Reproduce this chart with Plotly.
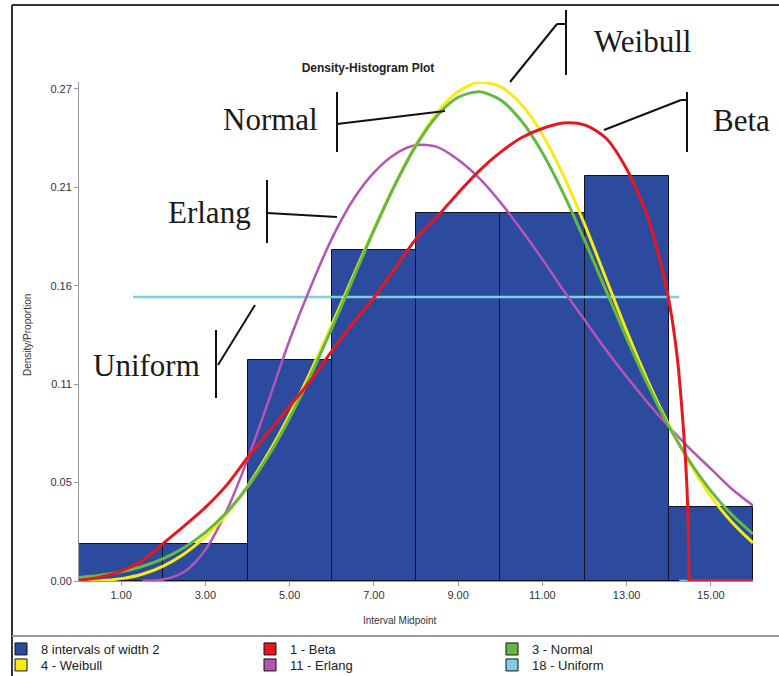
import plotly.graph_objects as go

# ---------------- data ----------------
bin_mids = [1, 3, 5, 7, 9, 11, 13, 15]
bin_props = [0.02, 0.02, 0.12, 0.18, 0.20, 0.20, 0.22, 0.04]
bin_width = 2

curve_x = [0, 0.5, 1, 1.5, 2, 2.5, 3, 3.5, 4, 4.5, 5, 5.5, 6, 6.5, 7, 7.5,
           8, 8.5, 9, 9.5, 10, 10.5, 11, 11.5, 12, 12.5, 13, 13.5, 14, 14.5,
           15, 15.5, 16]

normal_y = [0.0019, 0.0031, 0.0050, 0.0079, 0.0122, 0.0182, 0.0264, 0.0372,
            0.0511, 0.0682, 0.0886, 0.1118, 0.1373, 0.1640, 0.1906, 0.2153,
            0.2367, 0.2530, 0.2630, 0.2660, 0.2616, 0.2502, 0.2328, 0.2106,
            0.1853, 0.1586, 0.1321, 0.1069, 0.0842, 0.0650, 0.0490, 0.0360,
            0.0256]

weibull_y = [0.0, 0.0002, 0.0013, 0.0037, 0.0081, 0.0148, 0.0241, 0.0363,
             0.0515, 0.0697, 0.0906, 0.1140, 0.1392, 0.1653, 0.1913, 0.2157,
             0.2373, 0.2545, 0.2661, 0.2711, 0.2688, 0.2592, 0.2428, 0.2205,
             0.1940, 0.1650, 0.1360, 0.1090, 0.0850, 0.0640, 0.0460, 0.0320,
             0.0207]

erlang_x = [1.5, 2, 2.5, 3, 3.5, 4, 4.5, 5, 5.5, 6, 6.5, 7, 7.5, 8, 8.5, 9,
            9.5, 10, 10.5, 11, 11.5, 12, 12.5, 13, 13.5, 14, 14.5, 15, 15.5, 16]
erlang_y = [0.0, 0.0008, 0.005, 0.017, 0.038, 0.066, 0.098, 0.131, 0.160,
            0.186, 0.207, 0.222, 0.232, 0.237, 0.236, 0.229, 0.219, 0.206,
            0.191, 0.175, 0.158, 0.142, 0.126, 0.111, 0.097, 0.084, 0.072,
            0.061, 0.050, 0.041]

beta_x = [0, 0.5, 1, 1.5, 2, 2.5, 3, 3.5, 4, 4.5, 5, 5.5, 6, 6.5, 7, 7.5, 8,
          8.5, 9, 9.5, 10, 10.5, 11, 11.5, 12, 12.5, 13, 13.5, 13.75, 14,
          14.2, 14.3, 14.4, 14.45, 14.48, None, 14.48, 16]
beta_y = [0.0003, 0.002, 0.0055, 0.011, 0.0205, 0.030, 0.040, 0.052, 0.067,
          0.081, 0.095, 0.109, 0.125, 0.140, 0.154, 0.170, 0.186, 0.198,
          0.211, 0.223, 0.233, 0.241, 0.246, 0.249, 0.248, 0.241, 0.224,
          0.198, 0.178, 0.153, 0.122, 0.097, 0.065, 0.040, 0.0, None, 0.0, 0.0]

uniform_x = [1.28, 14.25, None, 14.25, 16]
uniform_y = [0.1544, 0.1544, None, 0.0, 0.0]

ytick_vals = [0.0, 0.0535, 0.107, 0.1605, 0.214, 0.2675]
ytick_text = ["0.00", "0.05", "0.11", "0.16", "0.21", "0.27"]
xtick_vals = [1, 3, 5, 7, 9, 11, 13, 15]
xtick_text = ["1.00", "3.00", "5.00", "7.00", "9.00", "11.00", "13.00", "15.00"]

names = {
    "hist": "8 intervals of width 2",
    "beta": "1 - Beta",
    "normal": "3 - Normal",
    "weibull": "4 - Weibull",
    "erlang": "11 - Erlang",
    "uniform": "18 - Uniform",
}
colors = {
    "hist": "#2D4B9E",
    "beta": "#E8161E",
    "normal": "#63B944",
    "weibull": "#F7EC12",
    "erlang": "#B455B4",
    "uniform": "#7ED0E0",
}
# one legend box per entry: three columns, two rows
legend_of = {
    "hist": "legend", "beta": "legend2", "normal": "legend3",
    "weibull": "legend4", "erlang": "legend5", "uniform": "legend6",
}

# ---------------- figure ----------------
fig = go.Figure()

fig.add_trace(go.Bar(
    x=bin_mids, y=bin_props, width=[bin_width] * len(bin_mids),
    marker=dict(color=colors["hist"], line=dict(color="#111122", width=1)),
    name=names["hist"], legend=legend_of["hist"], showlegend=True,
))

line_specs = [
    ("uniform", uniform_x, uniform_y, 2.5),
    ("erlang", erlang_x, erlang_y, 2.5),
    ("weibull", curve_x, weibull_y, 3),
    ("normal", curve_x, normal_y, 3),
    ("beta", beta_x, beta_y, 3),
]
for key, xs, ys, w in line_specs:
    fig.add_trace(go.Scatter(
        x=xs, y=ys, mode="lines",
        line=dict(color=colors[key], width=w, shape="spline", smoothing=0.8),
        connectgaps=False, showlegend=False, hoverinfo="skip",
    ))

for key in ["beta", "normal", "weibull", "erlang", "uniform"]:
    fig.add_trace(go.Scatter(
        x=[None], y=[None], mode="markers",
        marker=dict(symbol="square", size=12, color=colors[key],
                    line=dict(color="#111111", width=1)),
        name=names[key], legend=legend_of[key], showlegend=True,
    ))

# ---------------- layout ----------------
L, R, T, B = 79, 26, 82, 95
W, H = 779, 676
pw, ph = W - L - R, H - T - B


def px(xp):
    return (xp - L) / pw


def py(yp):
    return (H - B - yp) / ph


sans = "Liberation Sans, Arial, sans-serif"
serif = "Liberation Serif, Times New Roman, serif"

legend_common = dict(orientation="v", xref="container", yref="container",
                     xanchor="left", yanchor="top", tracegroupgap=0,
                     font=dict(size=13, color="#222222"),
                     bgcolor="rgba(0,0,0,0)")
col_x = [1, 250, 492]
row_top = [634, 650]
legend_boxes = {}
for i, key in enumerate(["hist", "beta", "normal", "weibull", "erlang",
                         "uniform"]):
    legend_boxes[legend_of[key]] = dict(
        x=col_x[i % 3] / W, y=1 - row_top[i // 3] / H, **legend_common)

fig.update_layout(
    width=W, height=H,
    margin=dict(l=L, r=R, t=T, b=B, pad=0, autoexpand=False),
    paper_bgcolor="white", plot_bgcolor="white",
    bargap=0,
    font=dict(family=sans, color="#333333", size=11),
    title=dict(text="<b>Density-Histogram Plot</b>", x=368 / W, y=1 - 68 / H,
               xref="container", yref="container", xanchor="center",
               yanchor="middle", font=dict(size=12, color="#222222")),
    xaxis=dict(range=[0, 16], tickvals=xtick_vals, ticktext=xtick_text,
               showgrid=False, zeroline=False, showline=True,
               linecolor="#999999", ticks="outside", ticklen=4,
               tickcolor="#999999", tickfont=dict(size=11), fixedrange=True),
    yaxis=dict(range=[0, 0.2713], tickvals=ytick_vals, ticktext=ytick_text,
               showgrid=False, zeroline=False, showline=True,
               linecolor="#999999", ticks="outside", ticklen=4,
               tickcolor="#999999", tickfont=dict(size=11), fixedrange=True),
    showlegend=True,
    **legend_boxes,
)

# axis titles
fig.add_annotation(text="Density/Proportion", x=px(27), y=py(335),
                   xref="paper", yref="paper", textangle=-90, showarrow=False,
                   xanchor="center", yanchor="middle",
                   font=dict(size=10, color="#333333"))
fig.add_annotation(text="Interval Midpoint", x=px(400), y=py(620),
                   xref="paper", yref="paper", showarrow=False,
                   xanchor="center", yanchor="middle",
                   font=dict(size=10, color="#333333"))

# curve labels
labels = [
    ("Weibull", 642, 42),
    ("Normal", 270, 120),
    ("Beta", 741, 121),
    ("Erlang", 209, 212),
    ("Uniform", 146, 365),
]
for txt, cx, cy in labels:
    fig.add_annotation(text=txt, x=px(cx), y=py(cy), xref="paper",
                       yref="paper", showarrow=False,
                       xanchor="center", yanchor="middle",
                       font=dict(family=serif, size=31, color="#1a1a1a"))

# leader lines (pixel coordinates converted to paper)
leaders = [
    (566, 10, 566, 75), (557, 24, 566, 24), (557, 24, 510, 82),
    (337, 92, 337, 152), (337, 124, 445, 111),
    (687, 92, 687, 152), (681, 100, 687, 100), (681, 100, 604, 130),
    (267, 180, 267, 243), (267, 213, 337, 217),
    (216, 330, 216, 398), (218, 365, 255, 305),
]
for x0, y0, x1, y1 in leaders:
    fig.add_shape(type="line", xref="paper", yref="paper",
                  x0=px(x0), y0=py(y0), x1=px(x1), y1=py(y1),
                  line=dict(color="#111111", width=2))

# frame lines
fig.add_shape(type="line", xref="paper", yref="paper", x0=px(12), y0=py(5),
              x1=px(12), y1=py(676), line=dict(color="#333333", width=2))
fig.add_shape(type="line", xref="paper", yref="paper", x0=px(12), y0=py(5),
              x1=px(779), y1=py(5), line=dict(color="#333333", width=2))
fig.add_shape(type="line", xref="paper", yref="paper", x0=px(12), y0=py(636),
              x1=px(779), y1=py(636), line=dict(color="#999999", width=2))

fig.write_html(
    "out.html",
    config={"displayModeBar": False},
    post_script="document.body.style.margin='0';document.body.style.padding='0';",
)
